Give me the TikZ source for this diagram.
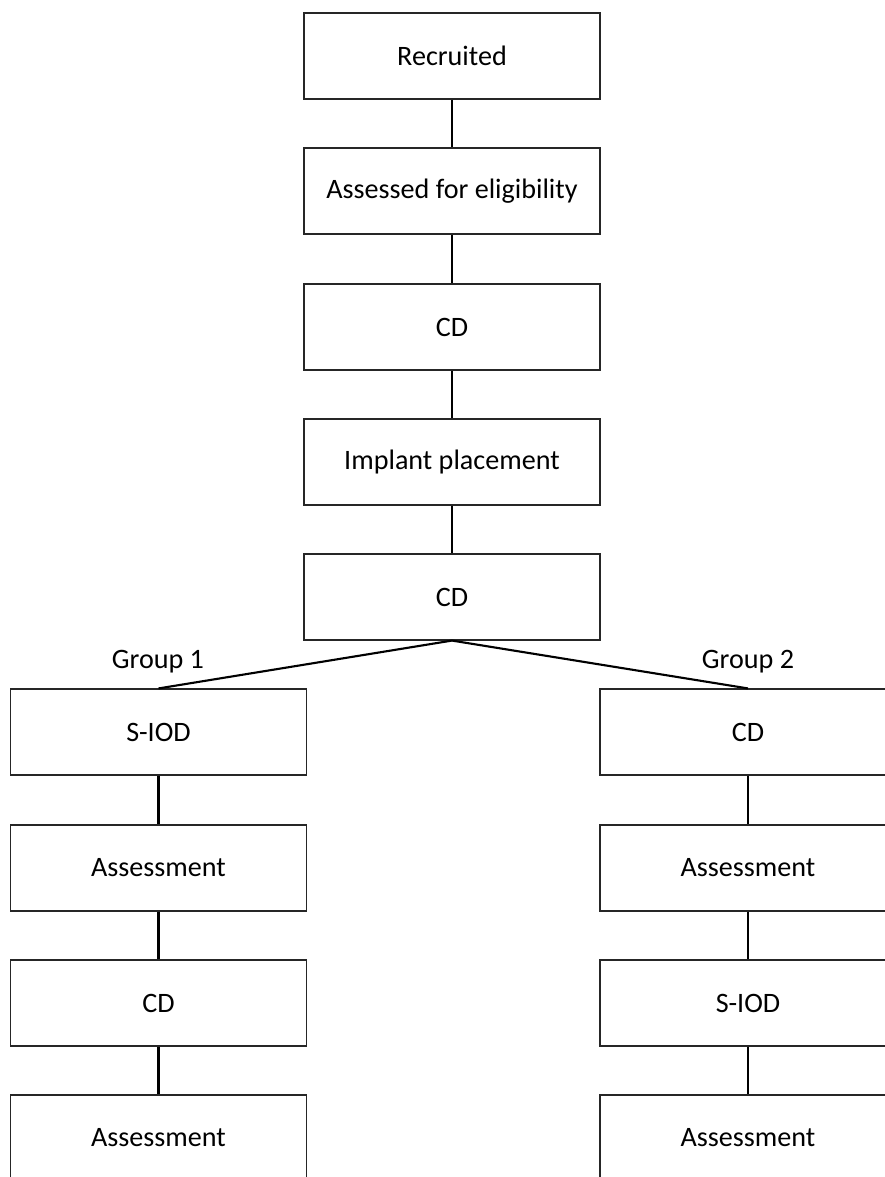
\documentclass[tikz,border=0pt]{standalone}
\usepackage{fontspec}
\setmainfont{Carlito}
\tikzset{
	etape/.style={draw=black!85, line width=0.8pt, minimum width=7.4cm, minimum height=2.15cm, inner sep=0pt, font=\fontsize{20}{24}\selectfont},
	lien/.style={line width=1.5pt},
	groupe/.style={font=\fontsize{20}{24}\selectfont}
}
\begin{document}
\begin{tikzpicture}[x=0.025cm,y=-0.025cm]
	\useasboundingbox (0,0) rectangle (884,1177) ;
	% colonne centrale
	\node[etape] (rec) at (452,56) {Recruited} ;
	\node[etape] (elig) at (452,191) {Assessed for eligibility} ;
	\node[etape] (cdA) at (452,327) {CD} ;
	\node[etape] (impl) at (452,462) {Implant placement} ;
	\node[etape] (cdB) at (452,597) {CD} ;
	% groupe 1
	\node[etape] (gAa) at (158.5,732) {S-IOD} ;
	\node[etape] (gAb) at (158.5,868) {Assessment} ;
	\node[etape] (gAc) at (158.5,1003) {CD} ;
	\node[etape] (gAd) at (158.5,1138) {Assessment} ;
	% groupe 2
	\node[etape] (gBa) at (748,732) {CD} ;
	\node[etape] (gBb) at (748,868) {Assessment} ;
	\node[etape] (gBc) at (748,1003) {S-IOD} ;
	\node[etape] (gBd) at (748,1138) {Assessment} ;
	\node[groupe] (lgA) at (158,662) {Group 1} ;
	\node[groupe] (lgB) at (748,662) {Group 2} ;
	\draw[lien] (rec) -- (elig) ;
	\draw[lien] (elig) -- (cdA) ;
	\draw[lien] (cdA) -- (impl) ;
	\draw[lien] (impl) -- (cdB) ;
	\draw[lien] (cdB.south) -- (gAa.north) ;
	\draw[lien] (cdB.south) -- (gBa.north) ;
	\draw[lien] (gAa) -- (gAb) ;
	\draw[lien] (gAb) -- (gAc) ;
	\draw[lien] (gAc) -- (gAd) ;
	\draw[lien] (gBa) -- (gBb) ;
	\draw[lien] (gBb) -- (gBc) ;
	\draw[lien] (gBc) -- (gBd) ;
\end{tikzpicture}
\end{document}
